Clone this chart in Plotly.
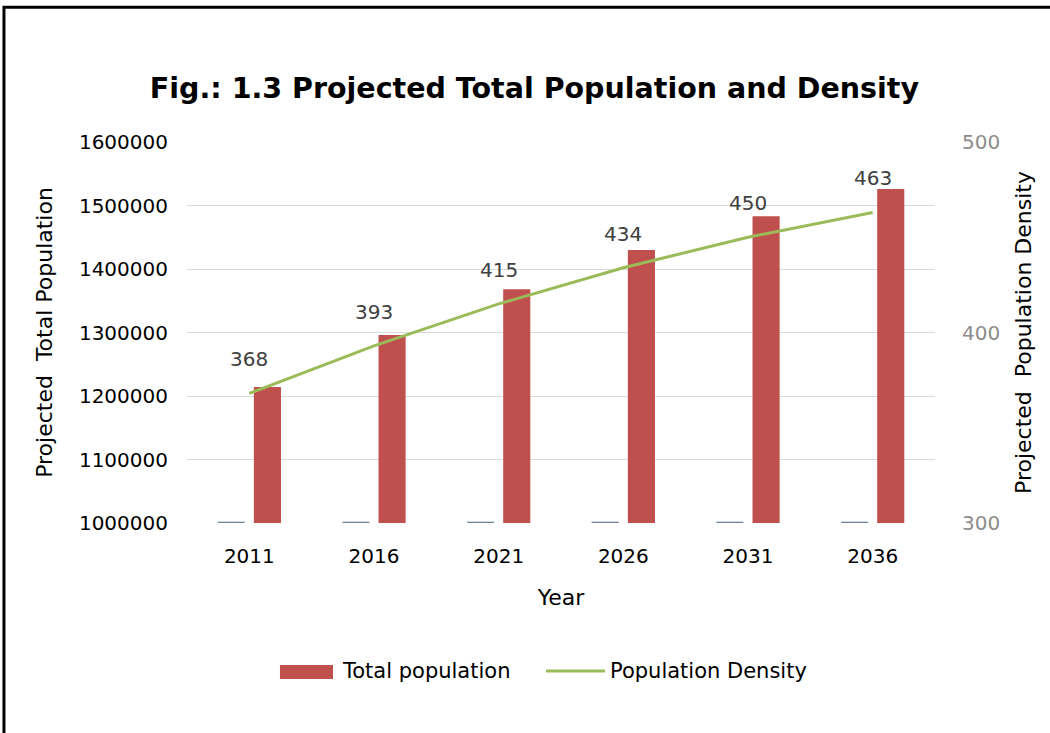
import plotly.graph_objects as go

# data
years = ["2011", "2016", "2021", "2026", "2031", "2036"]
year_series = [2011, 2016, 2021, 2026, 2031, 2036]
total_population = [1214000, 1296000, 1368000, 1430000, 1483000, 1526000]
population_density = [368, 393, 415, 434, 450, 463]

FONT = "DejaVu Sans"
RED = "#C0504D"
GREEN = "#9BBB59"
BLUE = "#34506E"
Y_MIN = 1000000

fig = go.Figure()

# thin first series, sits on the axis floor (as in the Excel original)
fig.add_trace(go.Bar(x=years, y=year_series, base=Y_MIN, name="Year",
                     marker=dict(color=BLUE), hoverinfo="skip"))
fig.add_trace(go.Bar(x=years, y=total_population, name="Total population",
                     marker=dict(color=RED, line=dict(width=0))))
fig.add_trace(go.Scatter(x=years, y=population_density, name="Population Density",
                         mode="lines", line=dict(color=GREEN, width=3), yaxis="y2"))

# data labels of the density line (x as category index, the year strings look numeric)
for i, d in enumerate(population_density):
    fig.add_annotation(x=i, y=d, xref="x", yref="y2", text=str(d), showarrow=False,
                       yshift=34, font=dict(family=FONT, size=20, color="#404040"))

# Excel-like legend drawn by hand (wide swatches)
LEG_Y = -0.3885
fig.add_shape(type="rect", xref="paper", yref="paper", x0=0.1243, x1=0.1952,
              y0=-0.4095, y1=-0.3727, fillcolor=RED, line=dict(width=0))
fig.add_shape(type="line", xref="paper", yref="paper", x0=0.4799, x1=0.5588,
              y0=LEG_Y, y1=LEG_Y, line=dict(color=GREEN, width=3))
fig.add_annotation(x=0.2045, y=LEG_Y, xref="paper", yref="paper", text="Total population",
                   showarrow=False, xanchor="left", yanchor="middle",
                   font=dict(family=FONT, size=21, color="#000000"))
fig.add_annotation(x=0.5628, y=LEG_Y, xref="paper", yref="paper", text="Population Density",
                   showarrow=False, xanchor="left", yanchor="middle",
                   font=dict(family=FONT, size=21, color="#000000"))

fig.update_layout(
    width=1050, height=733,
    paper_bgcolor="white", plot_bgcolor="white",
    margin=dict(l=187, r=115, t=142, b=210),
    barmode="group", bargap=0.42, bargroupgap=0.25,
    showlegend=False,
    font=dict(family=FONT, size=20, color="#000000"),
    title=dict(text="<b>Fig.: 1.3 Projected Total Population and Density</b>",
               x=0.509, xanchor="center", y=0.88, yanchor="middle",
               font=dict(family=FONT, size=28.5, color="#000000")),
    xaxis=dict(type="category", range=[-0.5, 5.5], showgrid=False, showline=False, ticks="",
               ticklabelstandoff=19,
               tickfont=dict(family=FONT, size=20, color="#000000"),
               title=dict(text="Year", font=dict(family=FONT, size=22), standoff=22)),
    yaxis=dict(range=[Y_MIN, 1600000], dtick=100000, showgrid=True, gridcolor="#D9D9D9",
               gridwidth=1, zeroline=False, showline=False, ticklabelstandoff=18,
               tickformat="d", tickfont=dict(family=FONT, size=20, color="#000000"),
               title=dict(text="Projected  Total Population", font=dict(family=FONT, size=22),
                          standoff=20)),
    yaxis2=dict(range=[300, 500], dtick=100, overlaying="y", side="right", showgrid=False,
                zeroline=False, showline=False, ticklabelstandoff=26,
                tickfont=dict(family=FONT, size=20, color="#8C8C8C"),
                title=dict(text="Projected  Population Density",
                           font=dict(family=FONT, size=22), standoff=16)),
)

# outer frame of the original figure (runs off the right and bottom edges)
fig.add_shape(type="rect", xref="paper", yref="paper", x0=-0.2447, x1=1.3, y0=-1.0,
              y1=1.354, line=dict(color="#000000", width=3),
              fillcolor="rgba(0,0,0,0)", layer="below")

fig.write_html("out.html", config={"displayModeBar": False},
               post_script="document.body.style.margin='0px';")
